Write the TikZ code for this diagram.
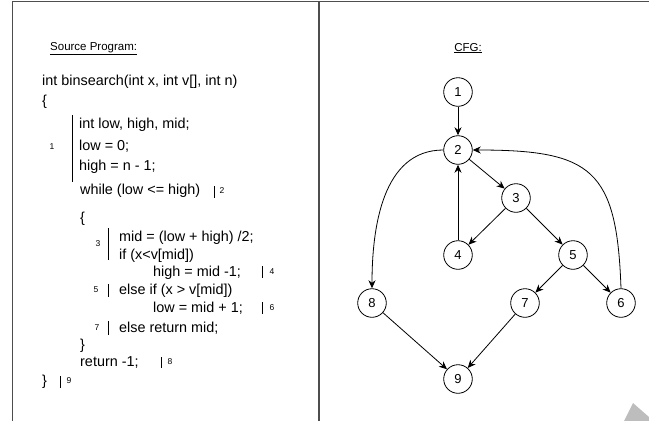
\documentclass[tikz,border=0pt]{standalone}
\usepackage{fontspec}
\setmainfont{Liberation Sans}
\usepackage{tikz}
\usetikzlibrary{arrows.meta,positioning}
\definecolor{cfgframe}{HTML}{4D4D4D}
\definecolor{cfgmark}{HTML}{BDBDBD}
\newcommand{\codesize}{\fontsize{14.4}{17}\selectfont}
\tikzset{
  code/.style={anchor=base west,inner sep=0pt,font=\codesize},
  title/.style={anchor=base,inner sep=0pt,font=\fontsize{11.5}{13}\selectfont},
  lnum/.style={inner sep=0pt,font=\fontsize{8.5}{10}\selectfont},
  bar/.style={draw=black,line width=0.8pt},
  frame/.style={draw=cfgframe,line width=1.4pt},
  state/.style={circle,draw=black,line width=0.8pt,minimum size=28.6pt,inner sep=0pt,font=\fontsize{13}{15}\selectfont},
  ar/.style={-{Stealth[length=8pt,width=7pt,inset=2.5pt]},line width=0.8pt},
}

\begin{document}
\begin{tikzpicture}[x=1pt,y=-1pt]
  \useasboundingbox (0,0) rectangle (649,421);
  % frame
  \draw[frame] (649,1.2) -- (12.5,1.2) -- (12.5,421);
  \draw[frame] (319,1.2) -- (319,421);
  \fill[cfgmark] (633,403) -- (624,421) -- (649,421) -- (649,417) -- cycle;

  % source program
  \node[title,anchor=base west] (srctitle) at (50,50) {\underline{Source Program:}};
  \node[code] (c0) at (42,85) {int binsearch(int x, int v[], int n)};
  \node[code] (c1) at (42,105) {\{};
  \node[code] (c2) at (79,128) {int low, high, mid;};
  \node[code] (c3) at (79,150) {low = 0;};
  \node[code] (c4) at (79,170) {high = n - 1;};
  \node[code] (c5) at (80,194) {while (low <\kern0pt= high)};
  \node[code] (c6) at (80,222) {\{};
  \node[code] (c7) at (119,241) {mid = (low + high) /2;};
  \node[code] (c8) at (119,259) {if (x<v[mid])};
  \node[code] (c9) at (153,276) {high = mid -1;};
  \node[code] (c10) at (119,294) {else if (x > v[mid])};
  \node[code] (c11) at (153,312) {low = mid + 1;};
  \node[code] (c12) at (119,332) {else return mid;};
  \node[code] (c13) at (80,349) {\}};
  \node[code] (c14) at (80,366) {return -1;};
  \node[code] (c15) at (42,385) {\}};

  % block marks
  \draw[bar] (72,115) -- (72,182);
  \node[lnum] (b1) at (52,147) {1};
  \draw[bar] (214,186) -- (214,198);
  \node[lnum] (b2) at (222,191) {2};
  \draw[bar] (108,228) -- (108,260);
  \node[lnum] (b3) at (98,244) {3};
  \draw[bar] (262,266) -- (262,278);
  \node[lnum] (b4) at (272,272) {4};
  \draw[bar] (108,284) -- (108,297);
  \node[lnum] (b5) at (96,290) {5};
  \draw[bar] (262,302) -- (262,314);
  \node[lnum] (b6) at (272,308) {6};
  \draw[bar] (108,321) -- (108,335);
  \node[lnum] (b7) at (97,328) {7};
  \draw[bar] (161,357) -- (161,368);
  \node[lnum] (b8) at (170,362) {8};
  \draw[bar] (60,376) -- (60,388);
  \node[lnum] (b9) at (69,381) {9};

  % control flow graph
  \node[title] (cfgtitle) at (468,51) {\underline{CFG:}};
  \node[state] (n1) at (458,92) {1};
  \node[state] (n2) at (458,150) {2};
  \node[state] (n3) at (516,198) {3};
  \node[state] (n4) at (458,255) {4};
  \node[state] (n5) at (573,255) {5};
  \node[state] (n8) at (372,303) {8};
  \node[state] (n7) at (525,303) {7};
  \node[state] (n6) at (621,303) {6};
  \node[state] (n9) at (458,379) {9};
  \draw[ar] (n1) -- (n2);
  \draw[ar] (n2) -- (n3);
  \draw[ar] (n3) -- (n4); \draw[ar] (n3) -- (n5);
  \draw[ar] (n4) -- (n2);
  \draw[ar] (n5) -- (n7); \draw[ar] (n5) -- (n6);
  \draw[ar] (n8) -- (n9); \draw[ar] (n7) -- (n9);
  \draw[ar] (n2.west) to[out=180,in=90] (n8.north);
  \draw[ar] (n6.north) to[out=92,in=0,looseness=1.5] (n2.east);
\end{tikzpicture}
\end{document}
